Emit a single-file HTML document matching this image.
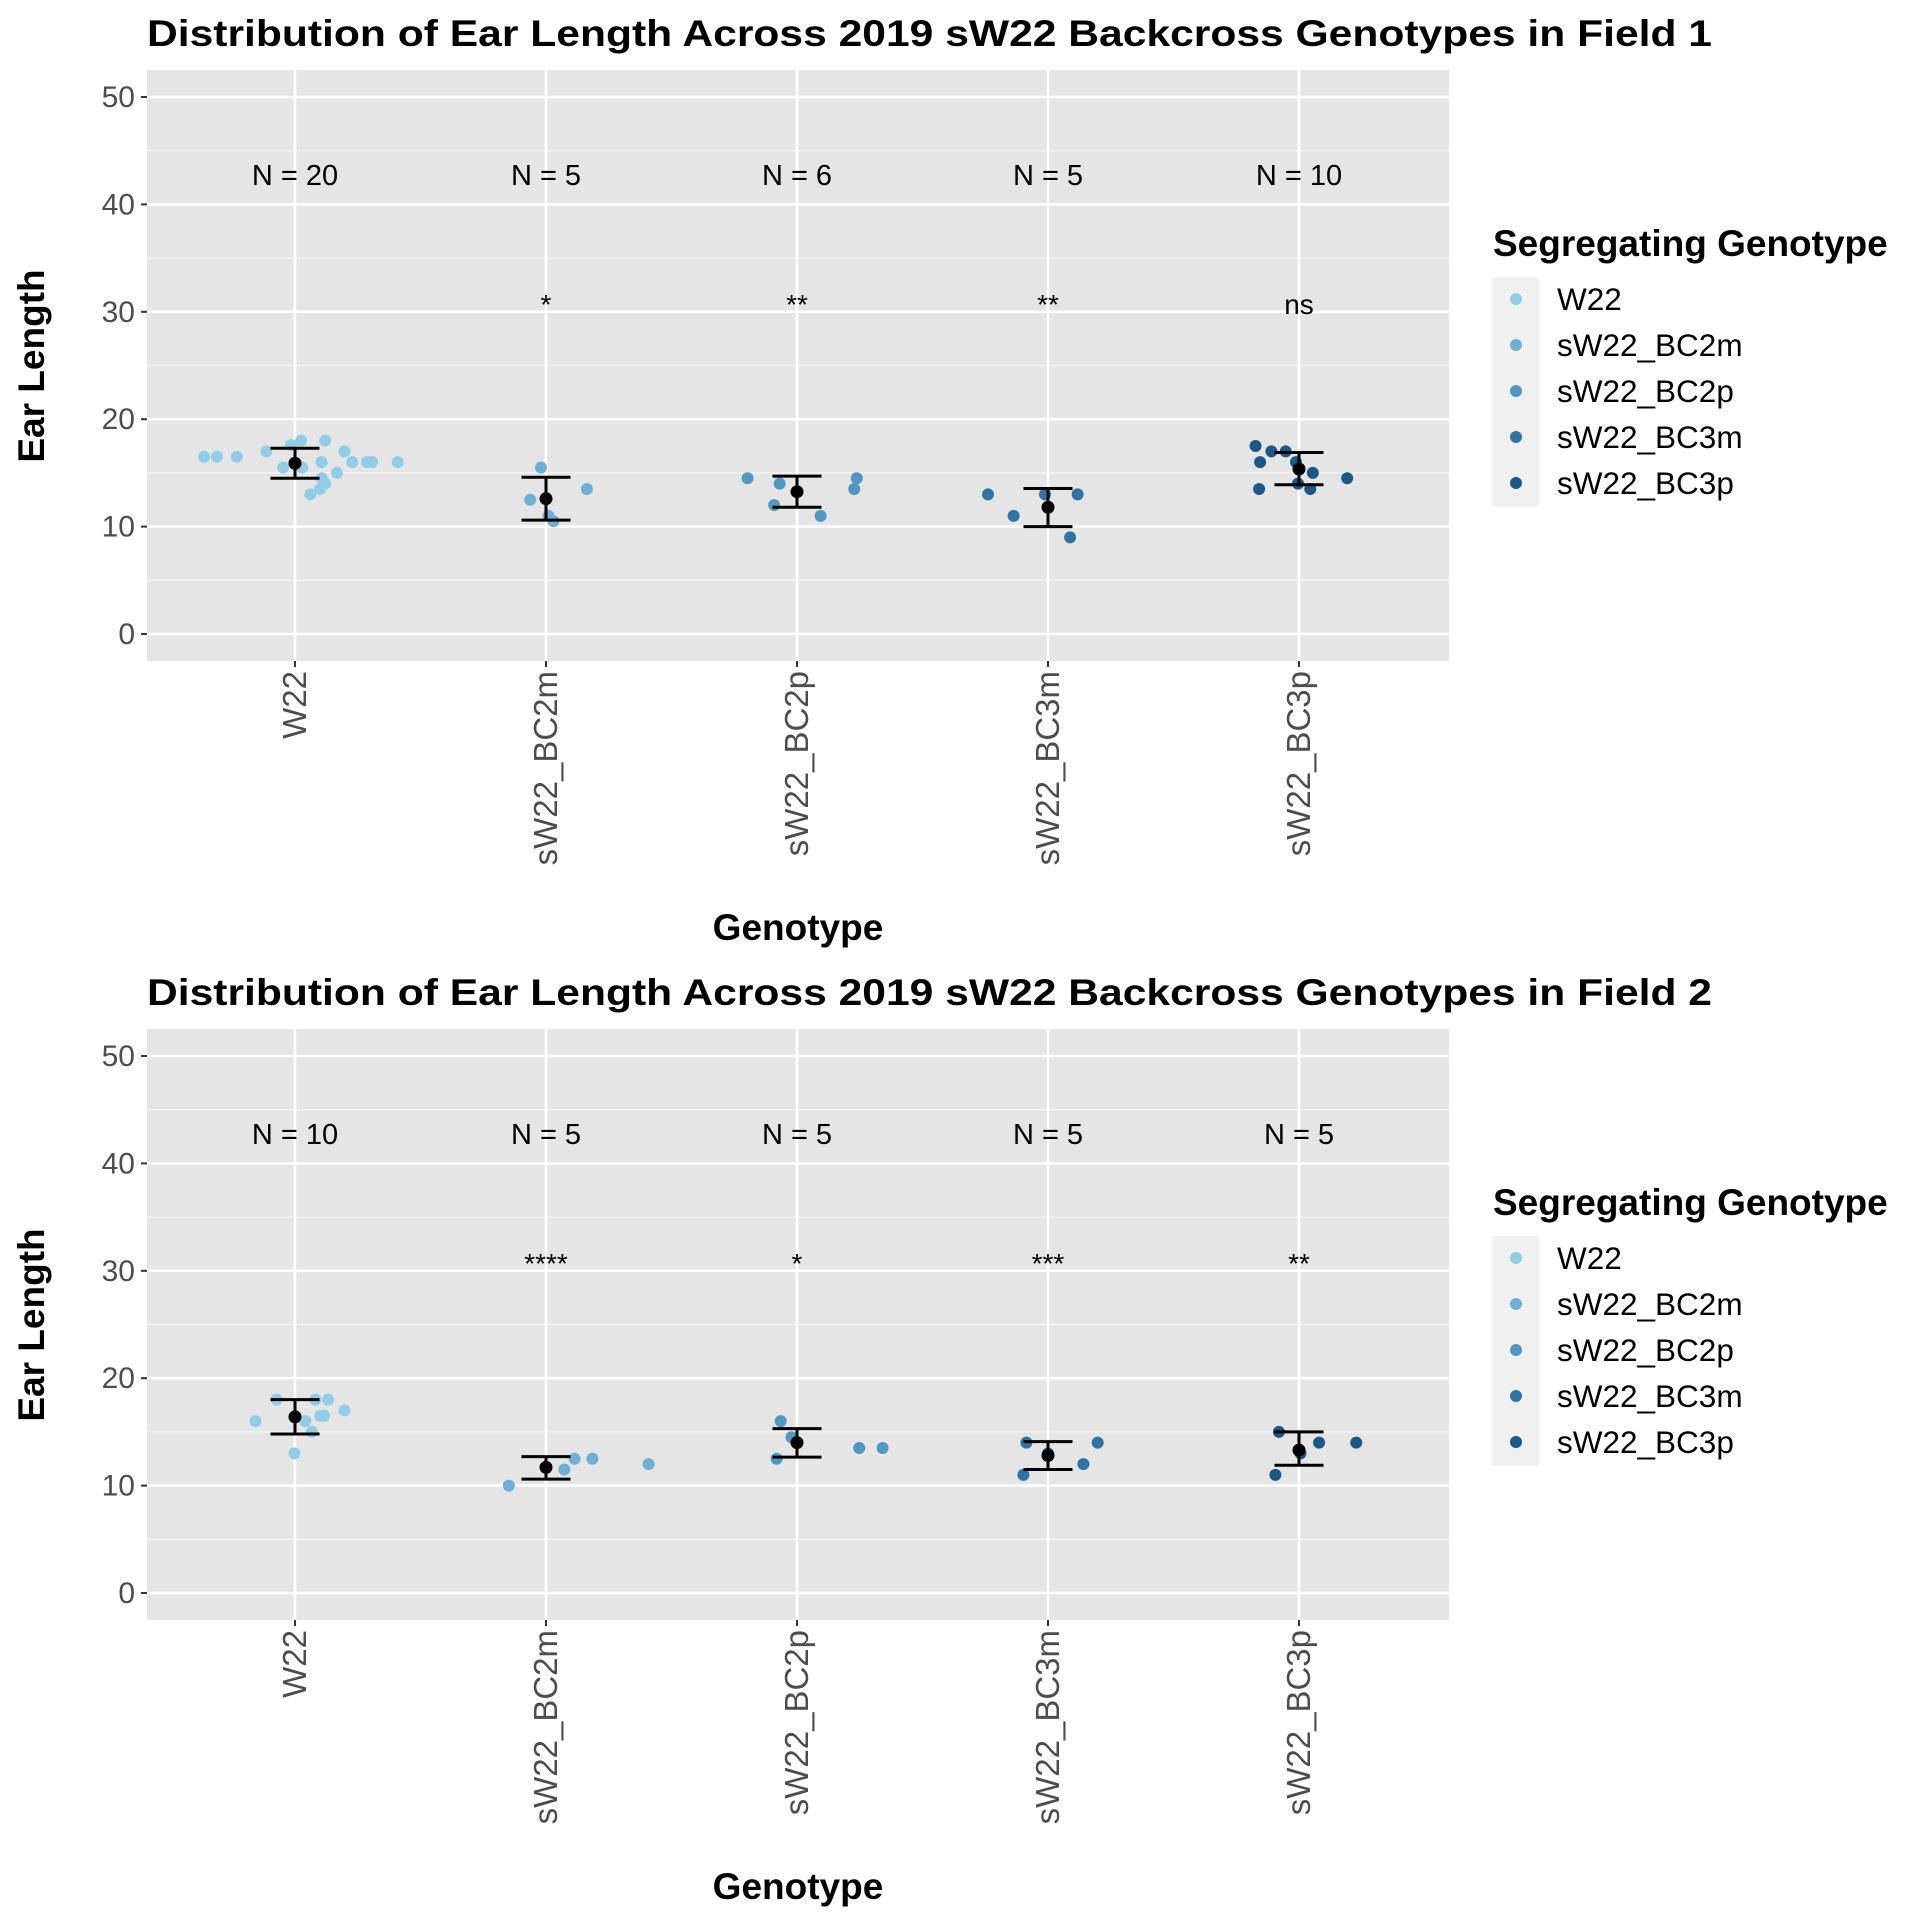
<!DOCTYPE html>
<html><head><meta charset="utf-8">
<style>
html,body{margin:0;padding:0;background:#fff;}
svg{display:block;font-family:"Liberation Sans",Arial,sans-serif;}
</style></head>
<body>
<svg id="chart" width="1920" height="1920" viewBox="0 0 1920 1920" xmlns="http://www.w3.org/2000/svg"></svg>
<script>
// ----- data -----
const categories = ["W22","sW22_BC2m","sW22_BC2p","sW22_BC3m","sW22_BC3p"];
const colors = ["#92cde8","#6eb0d4","#5097c2","#2f74a5","#1b5886"];
const yTicks = [0,10,20,30,40,50];
const yTickLabels = ["0","10","20","30","40","50"];

const f1Values = [
 [16.5,16.5,16.5,17,17.6,18,18,17,15.5,15.5,16,16,16,16,16,15,14.5,14,13.5,13],
 [15.5,12.5,13.5,11,10.5],
 [14.5,14,12,11,14.5,13.5],
 [13,11,13,13,9],
 [17.5,17,17,16,16,15,14.5,13.5,14,13.5]
];
const f1Jitter = [
 [-0.362,-0.311,-0.232,-0.114,-0.016,0.024,0.12,0.197,-0.047,0.028,0.106,0.228,0.287,0.307,0.409,0.167,0.106,0.12,0.1,0.061],
 [-0.02,-0.063,0.163,0.01,0.03],
 [-0.197,-0.069,-0.091,0.094,0.238,0.228],
 [-0.239,-0.137,-0.012,0.118,0.088],
 [-0.173,-0.11,-0.053,-0.155,-0.012,0.055,0.192,-0.159,-0.004,0.045]
];
const f1Means = [15.9,12.6,13.25,11.8,15.36];
const f1Lo = [14.5,10.6,11.8,10.0,13.9];
const f1Hi = [17.3,14.6,14.7,13.55,16.9];
const f1N = ["N = 20","N = 5","N = 6","N = 5","N = 10"];
const f1Sig = ["","*","**","**","ns"];

const f2Values = [
 [16,18,18,18,17,16,16.5,16.5,15,13],
 [10,11.5,12.5,12.5,12],
 [16,14.5,12.5,13.5,13.5],
 [14,13,11,12,14],
 [15,13,11,14,14]
];
const f2Jitter = [
 [-0.157,-0.073,0.081,0.132,0.197,0.041,0.1,0.116,0.067,-0.002],
 [-0.148,0.073,0.114,0.185,0.409],
 [-0.065,-0.022,-0.081,0.248,0.341],
 [-0.086,0.0,-0.098,0.141,0.198],
 [-0.08,0.006,-0.094,0.08,0.228]
];
const f2Means = [16.4,11.7,14.0,12.8,13.3];
const f2Lo = [14.8,10.6,12.65,11.5,11.9];
const f2Hi = [18.0,12.7,15.3,14.1,15.0];
const f2N = ["N = 10","N = 5","N = 5","N = 5","N = 5"];
const f2Sig = ["","****","*","***","**"];

const titles = ["Distribution of Ear Length Across 2019 sW22 Backcross Genotypes in Field 1",
                "Distribution of Ear Length Across 2019 sW22 Backcross Genotypes in Field 2"];

// ----- drawing -----
const NS="http://www.w3.org/2000/svg";
const svg=document.getElementById('chart');
function mk(tag,attrs,parent){const e=document.createElementNS(NS,tag);for(const k in attrs)e.setAttribute(k,attrs[k]);(parent||svg).appendChild(e);return e;}

function drawPanel(p, off, values, jitter, means, lo, hi, nLabels, sig){
  const L=147,R=1449,T=70+off,B=661+off;
  const y0=634+off, y50=97+off;
  const yScale=v=>y0+(y50-y0)*v/50;
  const xScale=c=>295+c*251;
  const g=mk('g',{});
  
  

  const t=mk('text',{x:L,y:46+off,'font-size':37,'font-weight':'bold',fill:'#000',textLength:1565,lengthAdjust:'spacingAndGlyphs'},g);
  t.textContent=titles[p];
  
  

  const bg=mk('rect',{x:L,y:T,width:R-L,height:B-T,fill:'#e5e5e5'},g);
  
  

  for(let v=5;v<=45;v+=10){mk('line',{x1:L,x2:R,y1:yScale(v),y2:yScale(v),stroke:'#f5f5f5','stroke-width':1.3},g);}
  yTicks.forEach((v,i)=>{
    const gl=mk('line',{x1:L,x2:R,y1:yScale(v),y2:yScale(v),stroke:'#fff','stroke-width':2.6},g);
    
    
    mk('line',{x1:L-6,x2:L,y1:yScale(v),y2:yScale(v),stroke:'#333','stroke-width':2},g);
    const tl=mk('text',{x:L-12,y:yScale(v)+10,'font-size':30,fill:'#4d4d4d','text-anchor':'end'},g);
    tl.textContent=yTickLabels[i];
    
    
  });
  categories.forEach((c,i)=>{
    const x=xScale(i);
    mk('line',{x1:x,x2:x,y1:T,y2:B,stroke:'#fff','stroke-width':2.6},g);
    mk('line',{x1:x,x2:x,y1:B,y2:B+6,stroke:'#333','stroke-width':2},g);
    const xl=mk('text',{x:x+11,y:B+10,'font-size':33,fill:'#4d4d4d','text-anchor':'end',transform:`rotate(-90 ${x+11} ${B+10})`},g);
    xl.textContent=c;
    
    
  });
  categories.forEach((c,i)=>{
    values[i].forEach((v,j)=>{
      const pt=mk('circle',{cx:xScale(i+jitter[i][j]),cy:yScale(v),r:6,fill:colors[i]},g);
      
      
    });
    const x=xScale(i);
    const eb=mk('g',{stroke:'#000','stroke-width':3},g);
    
    
    mk('line',{x1:x,x2:x,y1:yScale(lo[i]),y2:yScale(hi[i])},eb);
    mk('line',{x1:x-24.5,x2:x+24.5,y1:yScale(lo[i]),y2:yScale(lo[i])},eb);
    mk('line',{x1:x-24.5,x2:x+24.5,y1:yScale(hi[i]),y2:yScale(hi[i])},eb);
    const m=mk('circle',{cx:x,cy:yScale(means[i]),r:6.5,fill:'#000'},g);
    
    
    const n=mk('text',{x:x,y:yScale(41.8),'font-size':29,fill:'#000','text-anchor':'middle'},g);
    n.textContent=nLabels[i];
    
    
    if(sig[i]){
      const s=mk('text',{x:x,y:yScale(29.8),'font-size':28,fill:'#000','text-anchor':'middle'},g);
      s.textContent=sig[i];
      
      
    }
  });
  const xt=mk('text',{x:798,y:940+off,'font-size':37,'font-weight':'bold','text-anchor':'middle'},g);
  xt.textContent='Genotype';
  
  
  const yt=mk('text',{x:44,y:366+off,'font-size':37,'font-weight':'bold','text-anchor':'middle',transform:`rotate(-90 44 ${366+off})`},g);
  yt.textContent='Ear Length';
  
  

  const lg=mk('g',{},g);
  
  
  const lt=mk('text',{x:1493,y:256+off,'font-size':37,'font-weight':'bold'},lg);
  lt.textContent='Segregating Genotype';
  
  
  mk('rect',{x:1492,y:277+off,width:47,height:230,fill:'#f0f0f0'},lg);
  categories.forEach((c,i)=>{
    const yy=299+off+i*46;
    const ent=mk('g',{},lg);
    
    
    mk('circle',{cx:1516,cy:yy,r:6,fill:colors[i]},ent);
    const tx=mk('text',{x:1557,y:yy+11,'font-size':31.5},ent);
    tx.textContent=c;
  });
}
drawPanel(0,0,f1Values,f1Jitter,f1Means,f1Lo,f1Hi,f1N,f1Sig);
drawPanel(1,959,f2Values,f2Jitter,f2Means,f2Lo,f2Hi,f2N,f2Sig);
</script>
</body></html>
